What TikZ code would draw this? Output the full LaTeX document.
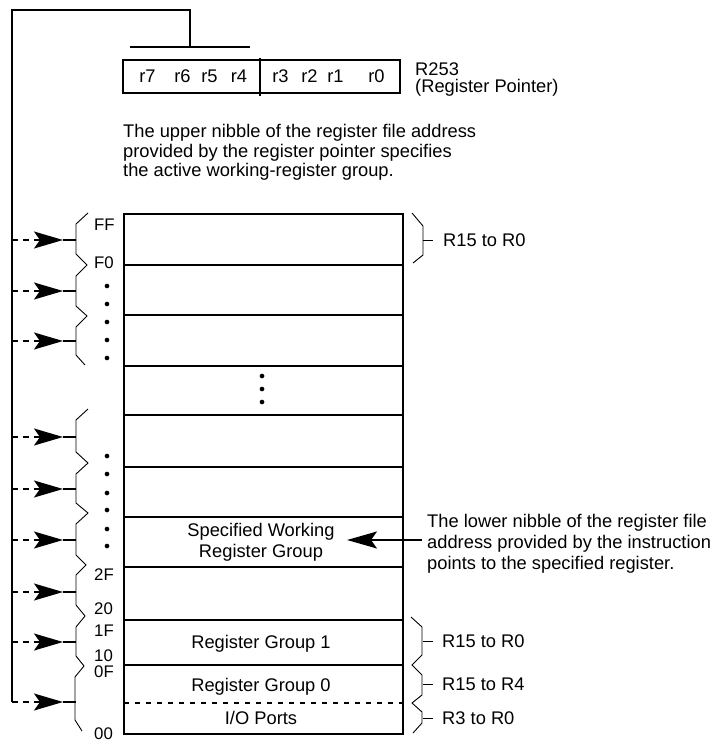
\documentclass[tikz,border=0pt]{standalone}
\usepackage{fontspec}
\setmainfont{Liberation Sans}
\usetikzlibrary{arrows.meta}
\tikzset{
  mainline/.style={line width=1.7pt},
  braceline/.style={line width=0.9pt, line join=miter},
  txt/.style={inner sep=0pt, text height=13pt, text depth=0pt, font=\fontsize{18.3}{20}\selectfont},
  hexlbl/.style={inner sep=0pt, text height=12pt, text depth=0pt, font=\fontsize{16.8}{18}\selectfont, anchor=west},
  dotmark/.style={circle, fill=black, inner sep=0pt, minimum size=4.7pt},
  busdash/.style={mainline, dash pattern=on 6pt off 5pt},
  bigtip/.style={-{Stealth[length=29pt,width=17pt,inset=6pt]}},
  midtip/.style={-{Stealth[length=30pt,width=17pt,inset=6pt]}},
}
\begin{document}
\begin{tikzpicture}[x=1pt,y=-1pt]
\useasboundingbox (0,0) rectangle (717,743);
% register pointer
\draw[mainline] (123,60) rectangle (400,93);
\draw[mainline] (260,58) -- (260,96);
\foreach \n/\x in {r7/147.5,r6/182.5,r5/209.5,r4/239,r3/280.5,r2/309.5,r1/335.5,r0/376.5}
  \node[txt] (\n) at (\x,76.5) {\n};
\node[txt, anchor=west] (rp1) at (415,69) {R253};
\node[txt, anchor=west] (rp2) at (415,86) {(Register Pointer)};
% upper text
\node[txt, anchor=west] (u1) at (123,131.5) {The upper nibble of the register file address};
\node[txt, anchor=west] (u2) at (123,151) {provided by the register pointer specifies};
\node[txt, anchor=west] (u3) at (123,170.5) {the active working-register group.};
% bus
\coordinate (barL) at (130,47);
\coordinate (barR) at (250,47);
\coordinate (barM) at (190,47);
\coordinate (busTR) at (190,10);
\coordinate (busTL) at (12,10);
\coordinate (busB) at (12,702);
\draw[mainline] (barL) -- (barR);
\draw[mainline] (barM) -- (busTR) -- (busTL) -- (busB);
\foreach \i/\y in {1/240,2/291,3/341,4/437,5/489,6/540,7/592,8/642,9/702}{
  \coordinate (s\i) at (12,\y);
  \coordinate (h\i) at (63,\y);
  \coordinate (t\i) at (76,\y);
  \draw[busdash,bigtip] (s\i) -- (h\i);
  \draw[mainline] (h\i) -- (t\i);
}
% left braces
\draw[braceline] (88,213) -- (76,224) -- (76,254) -- (87,265) -- (76,276) -- (76,306)
  -- (87,316) -- (76,327) -- (76,355) -- (85,365);
\draw[braceline] (88,409) -- (76,420) -- (76,452) -- (88,463) -- (76,474) -- (76,503)
  -- (88,513) -- (76,524) -- (76,555) -- (86,565) -- (76,575) -- (76,605) -- (85,616)
  -- (76,627) -- (76,656) -- (84,666) -- (75,677) -- (75,720) -- (82,731);
% labels
\foreach \t/\y in {FF/224,F0/262,2F/574,20/608,1F/630,10/655.5,0F/671.5,00/733.5}
  \node[hexlbl] (l\t) at (94,\y) {\t};
\foreach \y in {286,304,322,340,358,456,474,493,510,529,546}
  \node[dotmark] (d\y) at (107,\y) {};
% register file box
\draw[mainline] (124,214) rectangle (403,734);
\foreach \y in {265,315,366,415,467,517,567,620,665}
  \draw[mainline] (124,\y) -- (403,\y);
\draw[mainline, dash pattern=on 5pt off 6pt] (124,703) -- (403,703);
\foreach \y in {376,389,402}
  \node[dotmark] (m\y) at (262,\y) {};
\node[txt] (sw1) at (261,529.5) {Specified Working};
\node[txt] (sw2) at (261,550.5) {Register Group};
\node[txt] (g1) at (261,642) {Register Group 1};
\node[txt] (g0) at (261,685) {Register Group 0};
\node[txt] (io) at (261,718) {I/O Ports};
% right braces
\draw[braceline] (412,213) -- (423,226) -- (423,255) -- (413,263);
\draw[braceline] (411,617) -- (422,627) -- (422,655) -- (412,665) -- (422,675) -- (422,695)
  -- (412,703) -- (422,712) -- (422,723) -- (413,733);
\foreach \i/\y in {a/240,b/641,c/684,d/718}{
  \coordinate (rt\i) at (423,\y);
  \coordinate (rs\i) at (433,\y);
  \draw[braceline] (rt\i) -- (rs\i);
}
\node[txt, anchor=west] (ra) at (443,240) {R15 to R0};
\node[txt, anchor=west] (rb) at (442,641) {R15 to R0};
\node[txt, anchor=west] (rc) at (442,684) {R15 to R4};
\node[txt, anchor=west] (rd) at (442,718) {R3 to R0};
% lower nibble text and arrow
\node[txt, anchor=west] (n1) at (427,521) {The lower nibble of the register file};
\node[txt, anchor=west] (n2) at (427,542) {address provided by the instruction};
\node[txt, anchor=west] (n3) at (427,563) {points to the specified register.};
\coordinate (midtail) at (422,540);
\coordinate (midhead) at (347,540);
\draw[mainline, midtip] (midtail) -- (midhead);
\end{tikzpicture}
\end{document}
